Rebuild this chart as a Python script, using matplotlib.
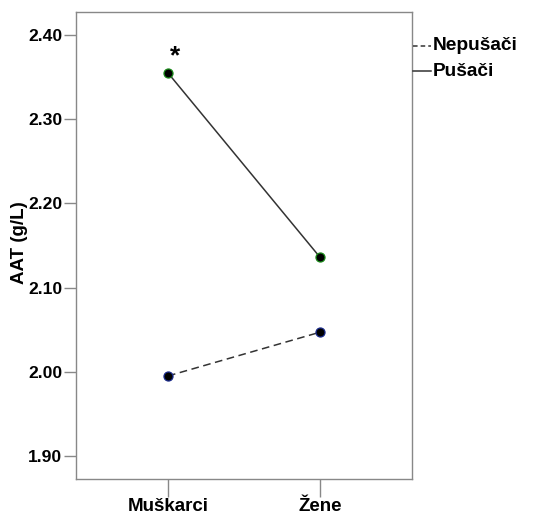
import matplotlib
matplotlib.use("Agg")
import matplotlib.pyplot as plt
from matplotlib.lines import Line2D

categories = ["Muškarci", "Žene"]
pusaci = [2.355, 2.136]
nepusaci = [1.995, 2.047]
yticks = [1.90, 2.00, 2.10, 2.20, 2.30, 2.40]
series_labels = ["Nepušači", "Pušači"]

plt.rcParams['font.family'] = ['Liberation Sans', 'DejaVu Sans']
W, H = 535, 515
fig = plt.figure(figsize=(W / 100, H / 100), dpi=100)
ax = fig.add_axes([76 / W, 1 - 479 / H, (412 - 76) / W, (479 - 12) / H])

x = list(range(len(categories)))
ax.plot(x, pusaci, color='#333333', lw=1.1, ls='-', marker='o', ms=6.5,
        mfc='black', mec='#1a8a1a', mew=0.9, zorder=3)
ax.plot(x, nepusaci, color='#333333', lw=1.1, ls=(0, (5, 3)), marker='o', ms=6.5,
        mfc='black', mec='#1a2a8a', mew=0.9, zorder=3)

ax.text(x[0] + 0.045, pusaci[0] + 0.005, "*", ha='center', va='bottom',
        fontsize=19, fontweight='bold')

ax.set_xlim(-0.605, 1.605)
ax.set_ylim(1.8726, 2.4274)
ax.set_xticks(x)
ax.set_xticklabels(categories, fontsize=13.5, fontweight='bold')
ax.set_yticks(yticks)
ax.set_yticklabels([f"{v:.2f}" for v in yticks], fontsize=12.6, fontweight='bold')
ax.tick_params(axis='y', length=9, width=1, color='#888888', pad=1)
ax.tick_params(axis='x', length=13, width=1, color='#888888', pad=1)
for s in ax.spines.values():
    s.set_color('#888888')
    s.set_linewidth(1)
fig.text(20 / W, 1 - 243 / H, "AAT (g/L)", rotation=90, ha='center', va='center',
         fontsize=13.5, fontweight='bold')

# legend outside right
for label, ls, yy in [(series_labels[0], (0, (3, 2)), 46), (series_labels[1], '-', 71)]:
    fy = 1 - yy / H
    fig.add_artist(Line2D([413 / W, 431 / W], [fy, fy], color='#333333', lw=1.1, ls=ls))
    fig.text(433 / W, fy, label, ha='left', va='center', fontsize=13.8, fontweight='bold')

fig.savefig("out.png", dpi=100)
